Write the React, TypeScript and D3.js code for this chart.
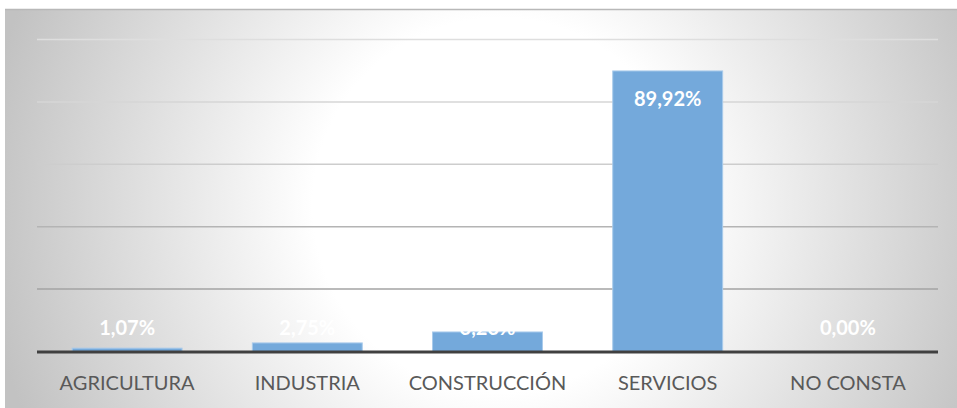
import React from "react";
import * as d3 from "d3";

const categories = ["AGRICULTURA", "INDUSTRIA", "CONSTRUCCIÓN", "SERVICIOS", "NO CONSTA"];
const values = [1.07, 2.75, 6.26, 89.92, 0.0];
const gridTicks = [20, 40, 60, 80, 100];

const W = 957;
const H = 408;
const plotLeft = 37;
const plotRight = 938;
const plotTop = 39.5;
const plotBottom = 351.5;

const gridColors: Record<number, string> = {
  100: "#dedede",
  80: "#d6d6d6",
  60: "#cdcdcd",
  40: "#b4b4b4",
  20: "#a3a3a3",
};

const fmt = (v: number) => v.toFixed(2).replace(".", ",") + "%";

export default function App() {
  const x = d3.scaleBand<string>().domain(categories).range([plotLeft, plotRight]).paddingInner(0.39).paddingOuter(0.195);
  const y = d3.scaleLinear().domain([0, 100]).range([plotBottom, plotTop]);
  const font = "Lato, 'Open Sans', sans-serif";
  return (
    <svg width={W} height={H} style={{ position: "absolute", left: 0, top: 0 }}>
      <defs>
        <radialGradient id="bg" gradientUnits="userSpaceOnUse" cx={500} cy={205} r={520}>
          <stop offset="0" stopColor="#ffffff" />
          <stop offset="0.36" stopColor="#ffffff" />
          <stop offset="1" stopColor="#c2c2c2" />
        </radialGradient>
      </defs>
      <rect x={5} y={9} width={W - 5} height={H - 9} fill="url(#bg)" />
      <line x1={5} x2={W} y1={9.5} y2={9.5} stroke="#b8b8b8" strokeWidth={1.5} />
      {gridTicks.map((t) => (
        <line key={t} x1={plotLeft} x2={plotRight} y1={y(t)} y2={y(t)} stroke={gridColors[t]} strokeWidth={1.5} />
      ))}
      {categories.map((c, i) => {
        const v = values[i];
        const top = y(v);
        const h = y(0) - top;
        return (
          <g key={c}>
            {h > 0 && (
              <rect x={x(c)!} y={top} width={x.bandwidth()} height={h} fill="#74a9db" stroke="#a9cbeb" strokeWidth={1} />
            )}
          </g>
        );
      })}
      <line x1={plotLeft} x2={plotRight} y1={y(0) + 0.5} y2={y(0) + 0.5} stroke="#404040" strokeWidth={3} />
      {categories.map((c, i) => {
        const v = values[i];
        const cx = x(c)! + x.bandwidth() / 2;
        const ly = Math.min(y(v) + 28, y(0) - 24);
        return (
          <text key={c + "l"} x={cx} y={ly} dy="0.35em" textAnchor="middle" fill="#ffffff" fontFamily={font} fontWeight={700} fontSize={20}>
            {fmt(v)}
          </text>
        );
      })}
      {categories.map((c) => (
        <text key={c + "t"} x={x(c)! + x.bandwidth() / 2} y={390} textAnchor="middle" fill="#595959" fontFamily={font} fontSize={20}>
          {c}
        </text>
      ))}
    </svg>
  );
}
